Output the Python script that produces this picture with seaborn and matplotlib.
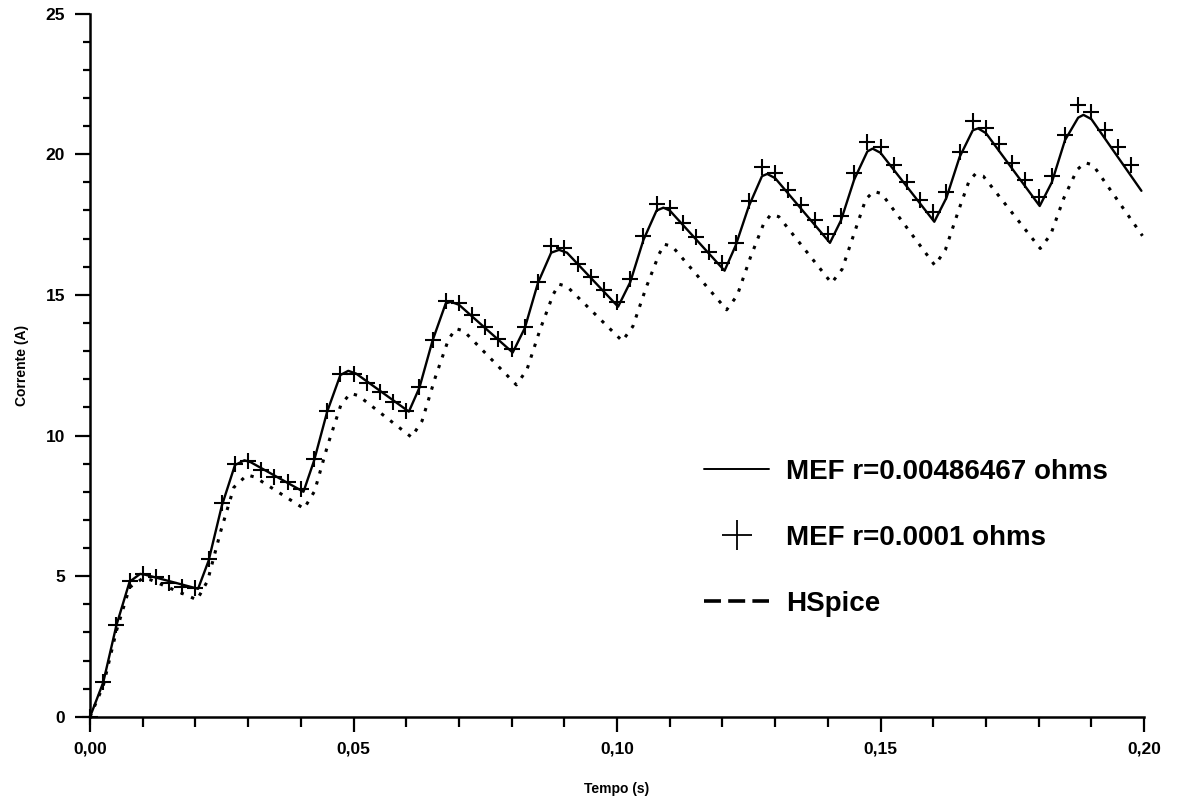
import matplotlib
matplotlib.use("Agg")
import matplotlib.pyplot as plt
from matplotlib.lines import Line2D
from matplotlib.ticker import MultipleLocator, FuncFormatter
import seaborn as sns
import numpy as np

# ---- data ----
# MEF r=0.00486467 ohms (solid line)
t_solid = [0.0, 0.0025, 0.005, 0.0075, 0.0095, 0.0105,
           0.0205, 0.0225, 0.025, 0.0275, 0.0293, 0.0305,
           0.0405, 0.0425, 0.045, 0.0475, 0.049, 0.0505,
           0.0605, 0.0625, 0.065, 0.0675, 0.0685, 0.070,
           0.0802, 0.0825, 0.085, 0.0875, 0.089, 0.0905,
           0.1002, 0.1025, 0.105, 0.1075, 0.1088, 0.110,
           0.1204, 0.1225, 0.125, 0.1275, 0.1285, 0.130,
           0.1404, 0.1425, 0.145, 0.1475, 0.1485, 0.150,
           0.1602, 0.1625, 0.165, 0.1675, 0.1685, 0.170,
           0.1802, 0.1825, 0.185, 0.1875, 0.1885, 0.190,
           0.1995]
i_solid = [0.0, 1.22, 3.25, 4.80, 5.08, 5.05,
           4.55, 5.55, 7.50, 8.95, 9.12, 9.05,
           8.00, 9.10, 10.85, 12.15, 12.30, 12.20,
           10.85, 11.70, 13.38, 14.70, 14.75, 14.65,
           12.95, 13.82, 15.43, 16.50, 16.60, 16.50,
           14.58, 15.45, 16.95, 18.00, 18.10, 18.00,
           15.86, 16.75, 18.15, 19.22, 19.30, 19.15,
           16.85, 17.65, 19.10, 20.10, 20.20, 20.05,
           17.60, 18.45, 19.90, 20.85, 20.92, 20.75,
           18.16, 19.00, 20.50, 21.30, 21.40, 21.25,
           18.70]

# MEF r=0.0001 ohms (plus markers)
t_plus = [round(0.0025 * k, 4) for k in range(80)]
i_plus = [0.00, 1.24, 3.27, 4.82, 5.08, 4.96, 4.75, 4.60,
          4.57, 5.62, 7.59, 9.00, 9.08, 8.78, 8.54, 8.33,
          8.10, 9.15, 10.88, 12.20, 12.20, 11.85, 11.53, 11.18,
          10.88, 11.73, 13.41, 14.77, 14.72, 14.27, 13.85, 13.43,
          13.07, 13.86, 15.47, 16.75, 16.65, 16.10, 15.65, 15.17,
          14.76, 15.56, 17.09, 18.23, 18.10, 17.56, 17.05, 16.53,
          16.14, 16.85, 18.33, 19.56, 19.32, 18.74, 18.21, 17.65,
          17.15, 17.80, 19.33, 20.43, 20.25, 19.60, 19.00, 18.39,
          17.94, 18.65, 20.08, 21.18, 20.94, 20.35, 19.70, 19.08,
          18.48, 19.22, 20.70, 21.76, 21.49, 20.87, 20.27, 19.62]

# HSpice (dotted line)
t_hspice = [0.0, 0.0025, 0.005, 0.0075, 0.0100, 0.0115,
            0.0203, 0.0223, 0.0248, 0.0273, 0.0298, 0.0313,
            0.0406, 0.0426, 0.0451, 0.0476, 0.0494, 0.0509,
            0.0610, 0.0630, 0.0655, 0.0680, 0.0694, 0.0709,
            0.0809, 0.0829, 0.0854, 0.0879, 0.0890, 0.0905,
            0.1010, 0.1030, 0.1055, 0.1080, 0.1090, 0.1105,
            0.1208, 0.1228, 0.1253, 0.1278, 0.1292, 0.1307,
            0.1407, 0.1427, 0.1452, 0.1472, 0.1487, 0.1502,
            0.1603, 0.1623, 0.1648, 0.1668, 0.1680, 0.1695,
            0.1803, 0.1823, 0.1848, 0.1873, 0.1888, 0.1903,
            0.1997]
i_hspice = [0.0, 1.10, 3.05, 4.60, 4.92, 4.87,
            4.16, 4.83, 6.60, 8.16, 8.60, 8.52,
            7.40, 8.02, 9.66, 11.09, 11.50, 11.42,
            9.94, 10.52, 12.06, 13.41, 13.80, 13.72,
            11.80, 12.34, 13.77, 15.02, 15.38, 15.30,
            13.36, 13.88, 15.25, 16.46, 16.80, 16.72,
            14.47, 14.98, 16.33, 17.52, 17.86, 17.78,
            15.42, 15.91, 17.30, 18.40, 18.68, 18.60,
            16.05, 16.60, 18.00, 19.05, 19.30, 19.22,
            16.65, 17.15, 18.45, 19.45, 19.70, 19.62,
            17.10]

labels = ["MEF r=0.00486467 ohms", "MEF r=0.0001 ohms", "HSpice"]
x_ticks = [0.0, 0.05, 0.10, 0.15, 0.20]
y_ticks = [0, 5, 10, 15, 20, 25]

# ---- drawing ----
sns.set_theme(style="ticks")
plt.rcParams["font.family"] = ["Liberation Sans", "DejaVu Sans"]
plt.rcParams["font.weight"] = "bold"
plt.rcParams["text.color"] = "black"
plt.rcParams["axes.labelcolor"] = "black"

fig = plt.figure(figsize=(11.77, 8.0), dpi=100)
ax = fig.add_axes([0.0765, 0.104, 0.8955, 0.879])

sns.lineplot(x=t_solid, y=i_solid, ax=ax, color="black", linewidth=1.7,
             sort=False, estimator=None)
sns.lineplot(x=t_hspice, y=i_hspice, ax=ax, color="black", linewidth=2.2,
             linestyle=(0, (1.1, 2.6)), sort=False, estimator=None)
sns.lineplot(x=t_plus, y=i_plus, ax=ax, color="black", linestyle="",
             marker="+", markersize=12, markeredgewidth=1.5,
             markeredgecolor="black", markerfacecolor="black",
             sort=False, estimator=None)
for ln in ax.lines:
    ln.set_clip_on(False)

ax.set_xlim(0, 0.20)
ax.set_ylim(0, 25)
ax.set_xticks(x_ticks)
ax.set_yticks(y_ticks)
ax.xaxis.set_minor_locator(MultipleLocator(0.01))
ax.yaxis.set_minor_locator(MultipleLocator(1))
ax.xaxis.set_major_formatter(FuncFormatter(lambda v, p: f"{v:.2f}".replace(".", ",")))
ax.yaxis.set_major_formatter(FuncFormatter(lambda v, p: f"{v:.0f}"))

for side in ["top", "right"]:
    ax.spines[side].set_visible(False)
for side in ["left", "bottom"]:
    ax.spines[side].set_linewidth(1.8)
    ax.spines[side].set_color("black")

ax.tick_params(axis="both", which="major", direction="out", length=11,
               width=1.6, color="black", labelsize=12.5, labelcolor="black")
ax.tick_params(axis="x", which="major", pad=7)
ax.tick_params(axis="y", which="major", pad=7)
ax.tick_params(axis="x", which="minor", direction="out", length=7, width=1.6, color="black")
ax.tick_params(axis="y", which="minor", direction="out", length=5, width=1.6, color="black")
for lab in ax.get_xticklabels() + ax.get_yticklabels():
    lab.set_fontweight("bold")

ax.set_xlabel("Tempo (s)", fontsize=10, fontweight="bold", labelpad=18, color="black")
ax.set_ylabel("Corrente (A)", fontsize=10, fontweight="bold", labelpad=12, color="black")

handles = [
    Line2D([], [], color="black", linewidth=1.4),
    Line2D([], [], color="black", linestyle="", marker="+", markersize=22,
           markeredgewidth=1.3),
    Line2D([], [], color="black", linewidth=2.6, linestyle=(0, (4.7, 2.0))),
]
leg = ax.legend(handles, labels, loc="upper left", bbox_to_anchor=(0.572, 0.383),
                frameon=False, fontsize=20, handlelength=2.34, handletextpad=0.6,
                labelspacing=1.44, borderaxespad=0)
for txt in leg.get_texts():
    txt.set_fontweight("bold")
    txt.set_color("black")

fig.savefig("out.png", dpi=100)
